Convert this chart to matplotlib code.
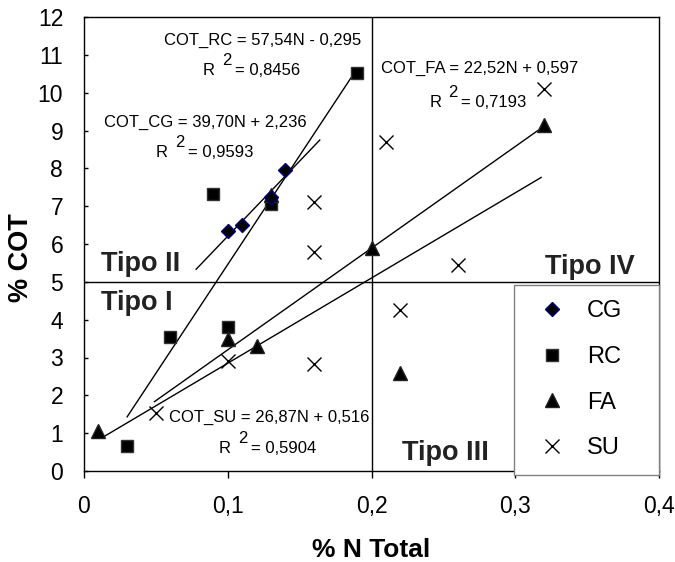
import matplotlib
matplotlib.use("Agg")
import matplotlib.pyplot as plt
from matplotlib.lines import Line2D

plt.rcParams['font.family'] = ['Liberation Sans', 'DejaVu Sans']

# datos (%N total, %COT)
cg_n = [0.10, 0.11, 0.13, 0.14]
cg_cot = [6.35, 6.50, 7.25, 7.95]

rc_n = [0.03, 0.06, 0.09, 0.10, 0.13, 0.19]
rc_cot = [0.65, 3.55, 7.33, 3.80, 7.05, 10.52]

fa_n = [0.01, 0.10, 0.12, 0.13, 0.20, 0.22, 0.32]
fa_cot = [1.05, 3.50, 3.30, 7.30, 5.90, 2.60, 9.15]

su_n = [0.05, 0.10, 0.16, 0.16, 0.16, 0.21, 0.22, 0.26, 0.32]
su_cot = [1.53, 2.90, 2.82, 5.80, 7.10, 8.70, 4.26, 5.45, 10.10]

# rectas de regresión: (pendiente, ordenada, rango de N dibujado)
fits = {
    'CG': (39.70, 2.236, (0.078, 0.164)),
    'RC': (57.54, -0.295, (0.030, 0.190)),
    'FA': (22.52, 0.597, (0.014, 0.318)),
    'SU': (26.87, 0.516, (0.049, 0.316)),
}

x_ticks = [0, 0.1, 0.2, 0.3, 0.4]
x_tick_labels = ['0', '0,1', '0,2', '0,3', '0,4']
y_ticks = list(range(0, 13))

fig = plt.figure(figsize=(6.75, 5.62), dpi=100)
ax = fig.add_axes([84 / 675, 1 - 471 / 562, 575 / 675, 454 / 562])

# líneas de regresión
for key, (m, b, (x0, x1)) in fits.items():
    ax.plot([x0, x1], [m * x0 + b, m * x1 + b], color='black', lw=1, zorder=2)

# líneas divisorias de cuadrantes
ax.axvline(0.2, color='black', lw=1, zorder=1)
ax.axhline(5, color='black', lw=1, zorder=1)

ax.plot(cg_n, cg_cot, ls='none', marker='D', ms=7.5, mfc='black', mec='#000080', mew=1, zorder=4)
ax.plot(rc_n, rc_cot, ls='none', marker='s', ms=8, mfc='black', mec='#333333', mew=1, zorder=3)
ax.plot(fa_n, fa_cot, ls='none', marker='^', ms=10, mfc='black', mec='#222222', mew=1, zorder=3)
ax.plot(su_n, su_cot, ls='none', marker='x', ms=10, mec='black', mew=1, zorder=3)

ax.set_xlim(0, 0.4)
ax.set_ylim(0, 12)
ax.set_xticks(x_ticks)
ax.set_xticklabels(x_tick_labels)
ax.set_yticks(y_ticks)
ax.tick_params(axis='x', direction='out', length=5, width=1, labelsize=16.5, pad=12)
ax.tick_params(axis='y', direction='in', length=3, width=1, labelsize=16.5, pad=15)
for s in ax.spines.values():
    s.set_linewidth(1)

# ecuaciones
eq_font = dict(fontsize=12, color='black')


def px(xp):
    return (xp - 85) / 1440.0


def py(yp):
    return (471 - yp) / 37.8


def r2(xr, yr, val):
    ax.text(px(xr), py(yr), 'R', ha='left', va='center', **eq_font)
    ax.text(px(xr + 19), py(yr - 10), '2', ha='left', va='center', **eq_font)
    ax.text(px(xr + 32), py(yr), '= ' + val, ha='left', va='center', **eq_font)


ax.text(px(165), py(41), 'COT_RC = 57,54N - 0,295', ha='left', va='center', **eq_font)
r2(204, 71, '0,8456')
ax.text(px(105), py(123), 'COT_CG = 39,70N + 2,236', ha='left', va='center', **eq_font)
r2(157, 153, '0,9593')
ax.text(px(383), py(69), 'COT_FA = 22,52N + 0,597', ha='left', va='center', **eq_font)
r2(431, 103, '0,7193')
ax.text(px(170), py(417), 'COT_SU = 26,87N + 0,516', ha='left', va='center', **eq_font)
r2(220, 449, '0,5904')

# etiquetas de tipos
tipo_font = dict(fontsize=19.5, fontweight='bold', color='#222222', va='center')
ax.text(0.0115, 5.48, 'Tipo II', ha='left', **tipo_font)
ax.text(0.0115, 4.44, 'Tipo I', ha='left', **tipo_font)
ax.text(0.221, 0.47, 'Tipo III', ha='left', **tipo_font)
ax.text(0.3205, 5.40, 'Tipo IV', ha='left', **tipo_font)

# leyenda
handles = [
    Line2D([], [], ls='none', marker='D', ms=7.5, mfc='black', mec='#000080'),
    Line2D([], [], ls='none', marker='s', ms=8, mfc='black', mec='#333333'),
    Line2D([], [], ls='none', marker='^', ms=10, mfc='black', mec='#222222'),
    Line2D([], [], ls='none', marker='x', ms=10, mec='black', mew=1),
]
lx0 = (514 - 84) / 575
ly1 = (471 - 285) / 454
leg = ax.legend(handles, ['CG', 'RC', 'FA', 'SU'], loc='upper left',
                bbox_to_anchor=(lx0, 0, 1 - lx0, ly1), mode='expand',
                borderaxespad=0, fancybox=False, framealpha=1, edgecolor='#808080',
                fontsize=17, labelspacing=1.0, handletextpad=0.5, handlelength=1.95,
                borderpad=0.65)
leg.get_frame().set_linewidth(1)

fig.text(371.5 / 675, 1 - 550 / 562, '% N Total', ha='center', va='center',
         fontsize=19, fontweight='bold')
fig.text(21 / 675, 1 - 258 / 562, '% COT', ha='center', va='center',
         fontsize=19.5, fontweight='bold', rotation=90)

fig.savefig('out.png', dpi=100)
